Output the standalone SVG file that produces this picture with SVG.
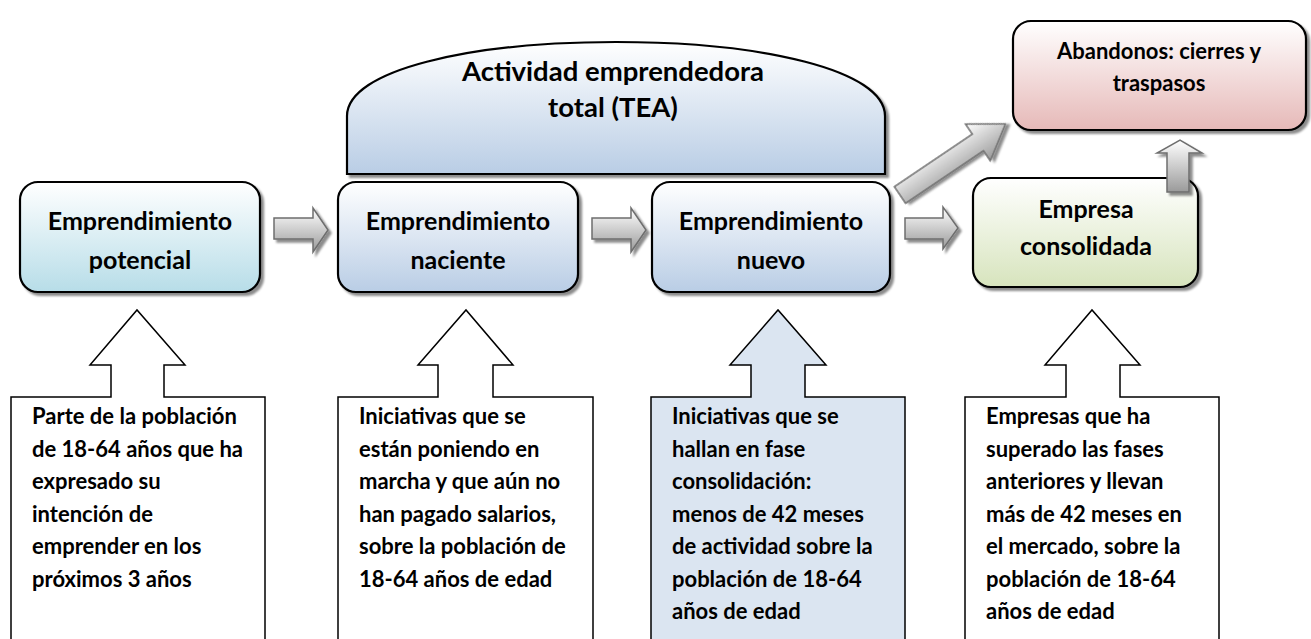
<svg xmlns="http://www.w3.org/2000/svg" width="1311" height="639" viewBox="0 0 1311 639">
<defs>
<linearGradient id="gCyan" x1="0" y1="0" x2="0" y2="1"><stop offset="0" stop-color="#ffffff"/><stop offset="1" stop-color="#b7dde8"/></linearGradient>
<linearGradient id="gBlue" x1="0" y1="0" x2="0" y2="1"><stop offset="0" stop-color="#ffffff"/><stop offset="1" stop-color="#b9cde5"/></linearGradient>
<linearGradient id="gGreen" x1="0" y1="0" x2="0" y2="1"><stop offset="0" stop-color="#ffffff"/><stop offset="1" stop-color="#d7e4bd"/></linearGradient>
<linearGradient id="gPink" x1="0" y1="0" x2="0" y2="1"><stop offset="0" stop-color="#ffffff"/><stop offset="1" stop-color="#e6b9b8"/></linearGradient>
<linearGradient id="gGray" x1="0" y1="0" x2="0" y2="1"><stop offset="0" stop-color="#ffffff"/><stop offset="1" stop-color="#9a9a9a"/></linearGradient>
<filter id="sh" x="-10%" y="-10%" width="130%" height="130%"><feDropShadow dx="3" dy="3" stdDeviation="1.2" flood-color="#000" flood-opacity="0.45"/></filter>
</defs>
<style>
.box{stroke:#000;stroke-width:2.2;filter:url(#sh)}
.arr{fill:url(#gGray);stroke:#6e6e6e;stroke-width:1.5;filter:url(#sh)}
.call{fill:#fff;stroke:#000;stroke-width:1.5}
.t{font-family:Lato,"Liberation Sans",sans-serif;font-weight:bold;fill:#000}
.bt{font-size:25px;text-anchor:middle}
.ct{font-size:22px}
</style>

<g id="tea">
<path class="box" fill="url(#gBlue)" d="M347,174 L347,116 C347,70 470,42 616,42 C762,42 885,70 885,116 L885,174 Z"/>
<text class="t" font-size="27.5" text-anchor="middle" x="613" y="81">Actividad emprendedora</text>
<text class="t" font-size="27.5" text-anchor="middle" x="613" y="117">total (TEA)</text>
</g>

<g id="potencial">
<rect class="box" fill="url(#gCyan)" x="20" y="182" width="240" height="110" rx="18"/>
<text class="t bt" x="140" y="230">Emprendimiento</text>
<text class="t bt" x="140" y="269">potencial</text>
</g>

<g id="naciente">
<rect class="box" fill="url(#gBlue)" x="338" y="182" width="240" height="110" rx="18"/>
<text class="t bt" x="458" y="230">Emprendimiento</text>
<text class="t bt" x="458" y="269">naciente</text>
</g>

<g id="nuevo">
<rect class="box" fill="url(#gBlue)" x="652" y="182" width="238" height="110" rx="18"/>
<text class="t bt" x="771" y="230">Emprendimiento</text>
<text class="t bt" x="771" y="269">nuevo</text>
</g>

<g id="abandonos">
<rect class="box" fill="url(#gPink)" x="1013" y="21" width="293" height="109" rx="18"/>
<text class="t" font-size="22" text-anchor="middle" x="1159" y="59">Abandonos: cierres y</text>
<text class="t" font-size="22" text-anchor="middle" x="1159" y="91">traspasos</text>
</g>

<g id="consolidada">
<rect class="box" fill="url(#gGreen)" x="973" y="178" width="225" height="109" rx="18"/>
<text class="t bt" x="1086" y="218">Empresa</text>
<text class="t bt" x="1086" y="255">consolidada</text>
</g>

<g id="connectors">
<path class="arr" d="M274,218 L313,218 L313,208 L328,230 L313,252 L313,239 L274,239 Z"/>
<path class="arr" d="M592,218 L631,218 L631,208 L646,230 L631,252 L631,239 L592,239 Z"/>
<path class="arr" d="M905,218 L943,218 L943,207 L958,228 L943,249 L943,239 L905,239 Z"/>
<path class="arr" transform="translate(900,195) rotate(-34)" d="M0,-10 L94,-10 L94,-22 L127,0 L94,22 L94,10 L0,10 Z"/>
<path class="arr" d="M1167,192 L1167,153 L1157,153 L1180,140 L1202,153 L1189,153 L1189,192 Z"/>
</g>

<g id="callout1">
<path class="call" d="M11,650 L11,397 L111,397 L111,365 L90,365 L137,310 L185,365 L164,365 L164,397 L265,397 L265,650"/>
<text class="t ct" x="32" y="424">Parte de la población</text>
<text class="t ct" x="32" y="457">de 18-64 años que ha</text>
<text class="t ct" x="32" y="489">expresado su</text>
<text class="t ct" x="32" y="522">intención de</text>
<text class="t ct" x="32" y="554">emprender en los</text>
<text class="t ct" x="32" y="587">próximos 3 años</text>
</g>

<g id="callout2">
<path class="call" d="M338,650 L338,397 L438,397 L438,365 L418,365 L466,310 L513,365 L493,365 L493,397 L593,397 L593,650"/>
<text class="t ct" x="359" y="424">Iniciativas que se</text>
<text class="t ct" x="359" y="457">están poniendo en</text>
<text class="t ct" x="359" y="489">marcha y que aún no</text>
<text class="t ct" x="359" y="522">han pagado salarios,</text>
<text class="t ct" x="359" y="554">sobre la población de</text>
<text class="t ct" x="359" y="587">18-64 años de edad</text>
</g>

<g id="callout3">
<path class="call" style="fill:#dbe5f1" d="M651,650 L651,397 L751,397 L751,365 L730,365 L778,310 L826,365 L805,365 L805,397 L905,397 L905,650"/>
<text class="t ct" x="672" y="424">Iniciativas que se</text>
<text class="t ct" x="672" y="457">hallan en fase</text>
<text class="t ct" x="672" y="489">consolidación:</text>
<text class="t ct" x="672" y="522">menos de 42 meses</text>
<text class="t ct" x="672" y="554">de actividad sobre la</text>
<text class="t ct" x="672" y="587">población de 18-64</text>
<text class="t ct" x="672" y="619">años de edad</text>
</g>

<g id="callout4">
<path class="call" d="M965,650 L965,397 L1066,397 L1066,365 L1045,365 L1092,310 L1140,365 L1120,365 L1120,397 L1219,397 L1219,650"/>
<text class="t ct" x="986" y="424">Empresas que ha</text>
<text class="t ct" x="986" y="457">superado las fases</text>
<text class="t ct" x="986" y="489">anteriores y llevan</text>
<text class="t ct" x="986" y="522">más de 42 meses en</text>
<text class="t ct" x="986" y="554">el mercado, sobre la</text>
<text class="t ct" x="986" y="587">población de 18-64</text>
<text class="t ct" x="986" y="619">años de edad</text>
</g>
</svg>
